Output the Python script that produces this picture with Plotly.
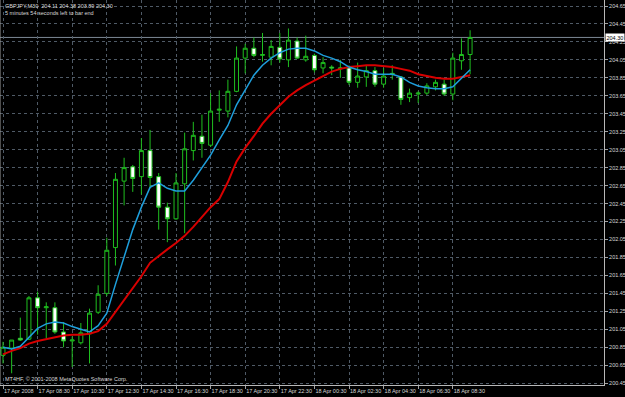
import pandas as pd
import plotly.graph_objects as go

# ---- data (GBPJPY, M30) ----
times = pd.date_range("2008-04-17 06:30", periods=55, freq="30min")

open_ = [200.76, 200.84, 200.95, 200.94, 201.40, 201.29, 201.29, 201.02, 200.92, 200.90,
         201.00, 201.24, 201.45, 201.96, 202.70, 202.86, 202.75, 203.04, 202.75, 202.41,
         202.28, 202.67, 203.04, 203.20, 203.10, 203.49, 203.48, 203.70, 204.07, 204.18,
         204.10, 204.08, 204.19, 204.05, 204.26, 204.05, 204.10, 203.96, 203.97, 203.95,
         203.96, 203.80, 203.86, 203.93, 203.78, 203.90, 203.86, 203.63, 203.67, 203.68,
         203.75, 203.78, 203.67, 204.04, 204.11]
high = [200.91, 200.93, 201.18, 201.42, 201.47, 201.35, 201.35, 201.13, 200.97, 201.12,
        201.28, 201.54, 202.07, 202.79, 202.96, 202.88, 203.18, 203.27, 202.79, 202.46,
        202.79, 203.24, 203.36, 203.44, 203.68, 203.71, 203.83, 204.20, 204.23, 204.30,
        204.35, 204.27, 204.35, 204.40, 204.30, 204.32, 204.12, 204.08, 203.99, 204.05,
        203.99, 204.02, 203.99, 203.97, 203.96, 203.99, 203.87, 203.73, 203.70, 203.79,
        203.83, 203.83, 204.13, 204.29, 204.38]
low = [200.67, 200.56, 200.92, 200.93, 200.99, 200.95, 201.00, 200.85, 200.63, 200.88,
       200.67, 201.22, 201.42, 201.76, 202.43, 202.58, 202.55, 202.62, 202.16, 202.02,
       202.27, 202.12, 202.93, 202.96, 203.08, 203.36, 203.41, 203.69, 203.90, 204.08,
       204.03, 203.99, 204.02, 203.97, 204.06, 204.03, 203.91, 203.90, 203.88, 203.85,
       203.77, 203.74, 203.75, 203.75, 203.74, 203.83, 203.55, 203.58, 203.57, 203.66,
       203.71, 203.65, 203.60, 203.94, 203.89]
close = [200.85, 200.93, 200.93, 201.40, 201.29, 201.30, 201.02, 200.92, 200.93, 201.01,
         201.23, 201.44, 201.93, 202.72, 202.85, 202.73, 203.04, 202.74, 202.41, 202.28,
         202.68, 203.06, 203.21, 203.12, 203.48, 203.50, 203.70, 204.07, 204.18, 204.10,
         204.11, 204.20, 204.06, 204.27, 204.07, 204.09, 203.94, 204.02, 203.96, 203.96,
         203.80, 203.87, 203.93, 203.78, 203.87, 203.89, 203.61, 203.68, 203.68, 203.76,
         203.80, 203.67, 204.07, 204.11, 204.30]

ma_fast = [200.85, 200.83, 200.86, 200.96, 201.06, 201.11, 201.13, 201.12, 201.08, 201.05,
           201.02, 201.09, 201.23, 201.55, 201.85, 202.16, 202.41, 202.63, 202.68, 202.62,
           202.59, 202.59, 202.71, 202.85, 202.99, 203.16, 203.32, 203.55, 203.71, 203.88,
           203.99, 204.07, 204.13, 204.17, 204.18, 204.18, 204.15, 204.10, 204.07, 204.03,
           203.97, 203.94, 203.92, 203.89, 203.89, 203.89, 203.86, 203.80, 203.76, 203.74,
           203.73, 203.73, 203.75, 203.85, 203.94]
ma_slow = [200.77, 200.81, 200.84, 200.89, 200.92, 200.94, 200.96, 200.98, 200.99, 200.99,
           201.00, 201.03, 201.11, 201.24, 201.38, 201.51, 201.64, 201.79, 201.87, 201.94,
           202.01, 202.09, 202.19, 202.30, 202.41, 202.50, 202.69, 202.92, 203.07, 203.20,
           203.34, 203.45, 203.54, 203.64, 203.71, 203.77, 203.82, 203.87, 203.92, 203.95,
           203.97, 203.98, 203.99, 203.99, 203.98, 203.97, 203.95, 203.93, 203.89, 203.87,
           203.85, 203.84, 203.84, 203.86, 203.88]

price_ticks = [200.45, 200.65, 200.85, 201.05, 201.25, 201.45, 201.65, 201.85, 202.05,
               202.25, 202.45, 202.65, 202.85, 203.05, 203.25, 203.45, 203.65, 203.85,
               204.05, 204.25, 204.45, 204.65]
time_tick_text = ["17 Apr 2008", "17 Apr 08:30", "17 Apr 10:30", "17 Apr 12:30",
                  "17 Apr 14:30", "17 Apr 16:30", "17 Apr 18:30", "17 Apr 20:30",
                  "17 Apr 22:30", "18 Apr 00:30", "18 Apr 02:30", "18 Apr 04:30",
                  "18 Apr 06:30", "18 Apr 08:30"]

symbol = "GBPJPY,M30"
timer_text = "5 minutes 54 seconds left to bar end"
copyright_text = "MT4HF, \u00a9 2001-2008 MetaQuotes Software Corp."

# ---- figure ----
GREEN = "#1fbf1f"
GRID = "#4f5a66"
TXT = "#d8d8d8"
FONT = "Liberation Sans"

fig = go.Figure()
fig.add_trace(go.Candlestick(
    x=times, open=open_, high=high, low=low, close=close,
    increasing=dict(line=dict(color=GREEN, width=1), fillcolor="#000000"),
    decreasing=dict(line=dict(color=GREEN, width=1), fillcolor="#ffffff"),
    whiskerwidth=0, hoverinfo="skip", showlegend=False,
))
fig.add_trace(go.Scatter(x=times, y=ma_slow, mode="lines",
                         line=dict(color="#d80000", width=2), hoverinfo="skip", showlegend=False))
fig.add_trace(go.Scatter(x=times, y=ma_fast, mode="lines",
                         line=dict(color="#1e9fdc", width=1.5), hoverinfo="skip", showlegend=False))

bar = pd.Timedelta("30min")
x0 = times[0] - 0.347 * bar
x1 = times[0] + 69.48 * bar

fig.update_layout(
    width=625, height=397,
    margin=dict(l=0, r=21, t=0, b=12),
    paper_bgcolor="#000000", plot_bgcolor="#000000",
    font=dict(family=FONT, size=5, color=TXT),
    boxgap=0.35,
    xaxis=dict(
        range=[x0, x1], rangeslider=dict(visible=False),
        tickvals=list(times[::4]), ticktext=time_tick_text,
        tickangle=0,
        ticks="outside", ticklen=3, tickcolor="#a0a0a0",
        ticklabelposition="outside right",
        tickfont=dict(family=FONT, size=5.5, color=TXT),
        showgrid=True, gridcolor=GRID, griddash="3px,3px", gridwidth=1,
        showline=True, linecolor="#b8b8b8", linewidth=1,
        zeroline=False, fixedrange=True,
    ),
    yaxis=dict(
        side="right", range=[200.4295, 204.717],
        tickvals=price_ticks, ticktext=[f"{v:.2f}" for v in price_ticks],
        ticks="outside", ticklen=3, tickcolor="#a0a0a0",
        tickfont=dict(family=FONT, size=5.5, color=TXT),
        showgrid=True, gridcolor=GRID, griddash="3px,3px", gridwidth=1,
        showline=True, linecolor="#b8b8b8", linewidth=1,
        zeroline=False, fixedrange=True,
    ),
)

# bid line
fig.add_shape(type="line", xref="paper", x0=0, x1=1, yref="y", y0=close[-1], y1=close[-1],
              line=dict(color="#7c8794", width=1), layer="below")
# left border
fig.add_shape(type="line", xref="paper", x0=0, x1=0, yref="paper", y0=0, y1=1,
              line=dict(color="#9a9a9a", width=1))

fig.add_annotation(xref="paper", yref="y", x=1.002, y=close[-1], xanchor="left", yanchor="middle",
                   text=f"{close[-1]:.2f}", showarrow=False, bgcolor="#ffffff",
                   font=dict(family=FONT, size=5.5, color="#000000"), borderpad=0.5)

header = f"{symbol}  {open_[-1]:.2f} {high[-1]:.2f} {low[-1]:.2f} {close[-1]:.2f}"
fig.add_annotation(xref="paper", yref="paper", x=0.005, y=0.998, xanchor="left", yanchor="top",
                   text=header, showarrow=False, font=dict(family=FONT, size=5.5, color=TXT))
fig.add_annotation(xref="paper", yref="paper", x=0.005, y=0.98, xanchor="left", yanchor="top",
                   text=timer_text, showarrow=False, font=dict(family=FONT, size=5.5, color=TXT))
fig.add_annotation(xref="paper", yref="paper", x=0.005, y=0.003, xanchor="left", yanchor="bottom",
                   text=copyright_text, showarrow=False, font=dict(family=FONT, size=5.5, color=TXT))

fig.write_html("out.html")
